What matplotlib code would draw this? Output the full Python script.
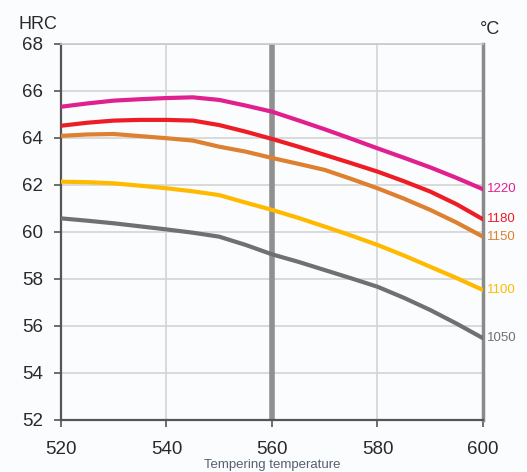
import matplotlib.pyplot as plt

plt.rcParams['font.family'] = ['Liberation Sans', 'DejaVu Sans']

temps = [520, 525, 530, 535, 540, 545, 550, 555, 560, 565, 570, 575, 580, 585, 590, 595, 600]

hrc_1220 = [65.33, 65.47, 65.59, 65.65, 65.70, 65.73, 65.62, 65.38, 65.12, 64.75, 64.37, 63.97, 63.56, 63.16, 62.75, 62.30, 61.82]
hrc_1180 = [64.52, 64.65, 64.74, 64.77, 64.77, 64.74, 64.55, 64.27, 63.96, 63.63, 63.28, 62.93, 62.57, 62.16, 61.72, 61.18, 60.54]
hrc_1150 = [64.09, 64.15, 64.17, 64.08, 63.99, 63.89, 63.63, 63.42, 63.15, 62.90, 62.64, 62.26, 61.86, 61.42, 60.94, 60.40, 59.80]
hrc_1100 = [62.14, 62.12, 62.07, 61.97, 61.86, 61.73, 61.57, 61.25, 60.94, 60.60, 60.23, 59.85, 59.45, 59.00, 58.52, 58.04, 57.53]
hrc_1050 = [60.58, 60.48, 60.37, 60.24, 60.11, 59.97, 59.80, 59.45, 59.05, 58.73, 58.38, 58.03, 57.67, 57.20, 56.68, 56.10, 55.48]

series = [
    ("1220", hrc_1220, "#e0208f"),
    ("1180", hrc_1180, "#ee1c25"),
    ("1150", hrc_1150, "#dd8030"),
    ("1100", hrc_1100, "#ffba00"),
    ("1050", hrc_1050, "#707070"),
]

fig = plt.figure(figsize=(5.27, 4.72), dpi=100)
fig.patch.set_facecolor("#fbfcfd")
ax = fig.add_axes([0.1157, 0.1102, 0.8008, 0.7966])
ax.set_facecolor("#fbfcfd")

ax.set_xlim(520, 600)
ax.set_ylim(52, 68)
ax.set_xticks([520, 540, 560, 580, 600])
ax.set_yticks(range(52, 69, 2))
ax.grid(True, color="#d4d4d4", lw=1.2)
ax.set_axisbelow(True)

for name, vals, col in series:
    ax.plot(temps, vals, color=col, lw=3, solid_capstyle="round", zorder=3)
    ax.text(600.8, vals[-1], name, color=col, fontsize=9.5, va="center", ha="left",
            clip_on=False)

ax.axvline(560, color="#909090", lw=4, zorder=2)

ax.spines["left"].set_color("#555555")
ax.spines["left"].set_linewidth(1.6)
ax.spines["bottom"].set_color("#555555")
ax.spines["bottom"].set_linewidth(1.6)
ax.spines["right"].set_color("#8a8a8a")
ax.spines["right"].set_linewidth(2.5)
ax.spines["top"].set_color("#c8c8c8")
ax.spines["top"].set_linewidth(1.2)

ax.tick_params(axis="both", labelsize=13.5, colors="#555555", labelcolor="#2a2a2a",
               length=5, width=1.2)
ax.tick_params(axis="x", pad=10)
ax.tick_params(axis="y", pad=8)

fig.text(0.036, 0.949, "HRC", fontsize=13, color="#2a2a2a", ha="left", va="center")
fig.text(0.910, 0.937, "°C", fontsize=13, color="#2a2a2a", ha="left", va="center")
ax.set_xlabel("Tempering temperature", fontsize=9.5, color="#556070", labelpad=1)

plt.savefig("out.png", dpi=100, facecolor=fig.get_facecolor())
